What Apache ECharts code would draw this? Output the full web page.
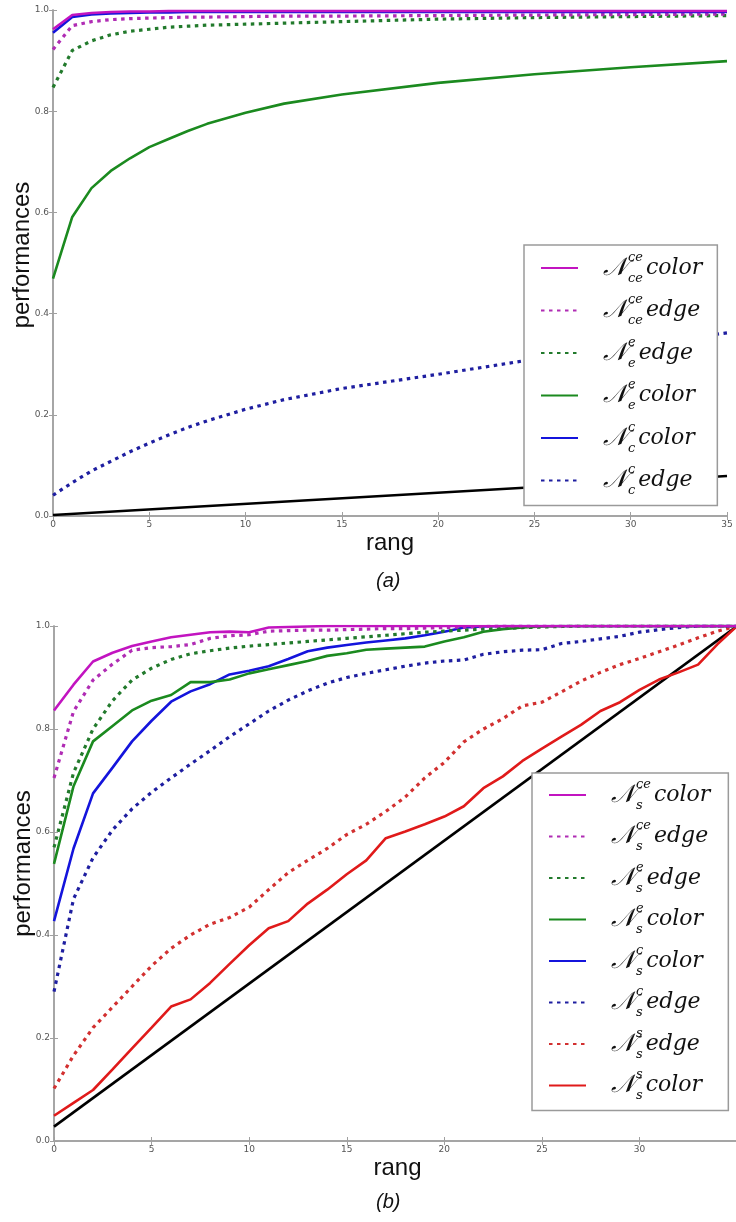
<!DOCTYPE html>
<html>
<head>
<meta charset="utf-8">
<script src="https://cdn.jsdelivr.net/npm/echarts@6/dist/echarts.min.js"></script>
<style>
  html, body { margin: 0; padding: 0; background: #fff; }
  #main { width: 736px; height: 1222px; }
</style>
</head>
<body>
<div id="main"></div>
<script>
// ---- panel (a) ----
const rankA = [0, 1, 2, 3, 4, 5, 6, 7, 8, 10, 12, 15, 20, 25, 30, 35];
const ceColorA = [0.962, 0.990, 0.994, 0.996, 0.997, 0.997, 0.998, 0.998, 0.998, 0.998, 0.998, 0.998, 0.998, 0.998, 0.998, 0.998];
const ceEdgeA = [0.922, 0.969, 0.977, 0.981, 0.983, 0.984, 0.985, 0.986, 0.986, 0.987, 0.988, 0.988, 0.989, 0.990, 0.991, 0.992];
const eEdgeA = [0.847, 0.920, 0.939, 0.951, 0.958, 0.962, 0.966, 0.968, 0.970, 0.972, 0.974, 0.977, 0.982, 0.985, 0.987, 0.989];
const eColorA = [0.469, 0.591, 0.648, 0.682, 0.707, 0.729, 0.745, 0.761, 0.775, 0.797, 0.815, 0.833, 0.856, 0.873, 0.887, 0.899];
const cColorA = [0.955, 0.986, 0.991, 0.993, 0.994, 0.995, 0.995, 0.996, 0.996, 0.996, 0.996, 0.996, 0.996, 0.996, 0.996, 0.996];
const cEdgeA = [0.041, 0.066, 0.089, 0.108, 0.127, 0.144, 0.160, 0.175, 0.188, 0.211, 0.230, 0.252, 0.280, 0.310, 0.337, 0.362];
const baseRankA = [0, 35];
const baseA = [0.002, 0.079];

// ---- panel (b) ----
const rankB = [0, 1, 2, 3, 4, 5, 6, 7, 8, 9, 10, 11, 12, 13, 14, 15, 16, 17, 18, 19, 20, 21, 22, 23, 24, 25, 26, 27, 28, 29, 30, 31, 32, 33, 34, 35];
const ceColorB = [0.836, 0.886, 0.931, 0.948, 0.961, 0.970, 0.978, 0.983, 0.988, 0.989, 0.988, 0.997, 0.998, 0.999, 1, 1, 1, 1, 1, 1, 1, 1, 1, 1, 1, 1, 1, 1, 1, 1, 1, 1, 1, 1, 1, 1];
const ceEdgeB = [0.705, 0.834, 0.895, 0.926, 0.953, 0.958, 0.960, 0.964, 0.976, 0.981, 0.983, 0.990, 0.991, 0.992, 0.992, 0.993, 0.994, 0.995, 0.995, 0.996, 0.997, 0.998, 0.999, 1, 1, 1, 1, 1, 1, 1, 1, 1, 1, 1, 1, 1];
const eEdgeB = [0.570, 0.715, 0.800, 0.855, 0.895, 0.918, 0.935, 0.946, 0.952, 0.957, 0.961, 0.964, 0.967, 0.970, 0.973, 0.976, 0.979, 0.982, 0.985, 0.988, 0.990, 0.992, 0.994, 0.995, 0.997, 0.998, 0.999, 1, 1, 1, 1, 1, 1, 1, 1, 1];
const eColorB = [0.538, 0.689, 0.776, 0.806, 0.836, 0.855, 0.866, 0.891, 0.891, 0.896, 0.908, 0.916, 0.924, 0.932, 0.942, 0.947, 0.954, 0.956, 0.958, 0.960, 0.970, 0.978, 0.989, 0.994, 0.997, 0.999, 1, 1, 1, 1, 1, 1, 1, 1, 1, 1];
const cColorB = [0.427, 0.568, 0.675, 0.725, 0.776, 0.816, 0.853, 0.873, 0.887, 0.906, 0.913, 0.922, 0.936, 0.951, 0.958, 0.963, 0.968, 0.972, 0.976, 0.982, 0.989, 0.997, 0.999, 1, 1, 1, 1, 1, 1, 1, 1, 1, 1, 1, 1, 1];
const cEdgeB = [0.290, 0.470, 0.550, 0.604, 0.645, 0.677, 0.705, 0.732, 0.758, 0.785, 0.810, 0.835, 0.856, 0.874, 0.889, 0.900, 0.908, 0.915, 0.922, 0.928, 0.932, 0.934, 0.945, 0.950, 0.953, 0.954, 0.966, 0.970, 0.975, 0.980, 0.988, 0.993, 0.997, 1, 1, 1];
const sEdgeB = [0.102, 0.166, 0.220, 0.260, 0.300, 0.340, 0.374, 0.400, 0.421, 0.434, 0.454, 0.488, 0.521, 0.545, 0.568, 0.595, 0.615, 0.640, 0.668, 0.705, 0.735, 0.775, 0.800, 0.820, 0.845, 0.852, 0.872, 0.893, 0.910, 0.925, 0.937, 0.950, 0.963, 0.977, 0.990, 1];
const sColorB = [0.049, 0.074, 0.099, 0.139, 0.180, 0.220, 0.261, 0.275, 0.307, 0.344, 0.380, 0.413, 0.427, 0.461, 0.488, 0.518, 0.545, 0.588, 0.601, 0.615, 0.630, 0.650, 0.685, 0.708, 0.738, 0.762, 0.785, 0.808, 0.835, 0.852, 0.876, 0.896, 0.910, 0.925, 0.965, 1];
const baseRankB = [0, 35];
const baseB = [0.028, 1.0];

// legend names: "sup/sub word"
const namesA = ['ce/ce color', 'ce/ce edge', 'e/e edge', 'e/e color', 'c/c color', 'c/c edge'];
const namesB = ['ce/s color', 'ce/s edge', 'e/s edge', 'e/s color', 'c/s color', 'c/s edge', 's/s edge', 's/s color'];

const MAG = '#c214c0', MAGD = '#b02cb4';
const GRN = '#1b8a1f', GRND = '#227a2c';
const BLU = '#1414dc', BLUD = '#1e1ea0';
const RED = '#e01a1a', REDD = '#d23030';

function pairs( xs, ys )
{
  return xs.map( ( x, i ) => [ x, ys[ i ] ] );
}

function line( name, xs, ys, color, dotted, g )
{
  return {
    name: name,
    type: 'line',
    xAxisIndex: g * 2,
    yAxisIndex: g * 2,
    symbol: 'none',
    data: pairs( xs, ys ),
    color: color,
    lineStyle: dotted
      ? { color: color, width: 3.2, type: [ 3.5, 4.5 ], cap: 'butt' }
      : { color: color, width: 2.6 },
    emphasis: { disabled: true },
    animation: false
  };
}

const serif = 'DejaVu Serif';
const rich = {
  n: { fontFamily: serif, fontStyle: 'italic', fontSize: 25, lineHeight: 34, color: '#111', padding: [ 0, 1, 0, 20 ] },
  sp: { fontFamily: serif, fontStyle: 'italic', fontSize: 13, lineHeight: 16, verticalAlign: 'top', color: '#111' },
  sb: { fontFamily: serif, fontStyle: 'italic', fontSize: 13, lineHeight: 15, verticalAlign: 'bottom', color: '#111' },
  sp0: { fontFamily: serif, fontStyle: 'italic', fontSize: 13, lineHeight: 16, verticalAlign: 'top', color: '#111', width: 0 },
  sb0: { fontFamily: serif, fontStyle: 'italic', fontSize: 13, lineHeight: 15, verticalAlign: 'bottom', color: '#111', width: 0 },
  t: { fontFamily: serif, fontStyle: 'italic', fontSize: 22, lineHeight: 34, color: '#111', padding: [ 0, 0, 0, 3 ] }
};

function legendLabel( name )
{
  let parts = name.split( ' ' );
  let idx = parts[ 0 ].split( '/' );
  let sup = idx[ 0 ], sub = idx[ 1 ];
  let marks = sup.length >= sub.length
    ? '{sb0|' + sub + '}{sp|' + sup + '}'
    : '{sp0|' + sup + '}{sb|' + sub + '}';
  return '{n|\u{1D4A9}}' + marks + '{t|' + parts[ 1 ] + '}';
}

function legend( names, left, top, gap, pad )
{
  return {
    data: names,
    orient: 'vertical',
    left: left,
    top: top,
    itemWidth: 37,
    itemHeight: 14,
    itemGap: gap,
    padding: pad,
    borderColor: '#9a9a9a',
    borderWidth: 1.5,
    borderRadius: 0,
    backgroundColor: '#fff',
    selectedMode: false,
    itemStyle: { opacity: 0 },
    formatter: legendLabel,
    textStyle: { rich: rich }
  };
}

const frame = { lineStyle: { color: '#a0a0a0', width: 1.5 } };
const tickIn = { inside: true, length: 4, lineStyle: { color: '#a0a0a0' } };
const tickLbl = { fontSize: 9, color: '#555', fontFamily: 'DejaVu Sans', margin: 4 };
const nameStyle = { fontSize: 24, color: '#111', fontFamily: 'Liberation Sans' };

function xAxes( g, max )
{
  return [
    {
      type: 'value', gridIndex: g, min: 0, max: max, interval: 5,
      axisLine: frame, axisTick: tickIn, splitLine: { show: false },
      axisLabel: Object.assign( {}, tickLbl, { formatter: v => v > 30 && max > 35 ? '' : String( v ) } ),
      name: 'rang', nameLocation: 'middle', nameGap: 15, nameTextStyle: nameStyle
    },
    {
      type: 'value', gridIndex: g, position: 'top', min: 0, max: max, interval: 5,
      axisLine: frame, axisTick: tickIn, axisLabel: { show: false }, splitLine: { show: false }
    }
  ];
}

function yAxes( g, shift )
{
  return [
    {
      type: 'value', gridIndex: g, min: 0, max: 1, interval: 0.2,
      axisLine: frame, axisTick: tickIn, splitLine: { show: false },
      axisLabel: Object.assign( {}, tickLbl, { formatter: v => v.toFixed( 1 ) } ),
      name: 'performances', nameLocation: 'middle', nameGap: 19, nameMoveOverlap: false,
      nameTextStyle: Object.assign( {}, nameStyle, { padding: [ 0, 0, 0, shift ] } )
    },
    {
      type: 'value', gridIndex: g, position: 'right', min: 0, max: 1, interval: 0.2,
      axisLine: frame, axisTick: tickIn, axisLabel: { show: false }, splitLine: { show: false }
    }
  ];
}

let myChart = echarts.init( document.getElementById( 'main' ) );
let titleFont = { fontSize: 20, fontStyle: 'italic', fontWeight: 'normal', fontFamily: 'Liberation Sans', color: '#111' };
let option = {
  animation: false,
  backgroundColor: '#fff',
  title: [
    { text: '(a)', left: 371, top: 566, textStyle: titleFont },
    { text: '(b)', left: 371, top: 1187, textStyle: titleFont }
  ],
  grid: [
    { left: 53, top: 10, width: 674, height: 506, outerBoundsMode: 'none', containLabel: false },
    { left: 54, top: 626, width: 687, height: 515, outerBoundsMode: 'none', containLabel: false }
  ],
  xAxis: xAxes( 0, 35 ).concat( xAxes( 1, 35.2 ) ),
  yAxis: yAxes( 0, 16 ).concat( yAxes( 1, 40 ) ),
  legend: [
    legend( namesA, 524, 245, 8.5, [ 6, 15, 8, 16 ] ),
    legend( namesB, 532, 773, 7.5, [ 5, 18, 8, 16 ] )
  ],
  series: [
    line( 'baseA', baseRankA, baseA, '#000', false, 0 ),
    line( 'c/c edge', rankA, cEdgeA, BLUD, true, 0 ),
    line( 'e/e color', rankA, eColorA, GRN, false, 0 ),
    line( 'e/e edge', rankA, eEdgeA, GRND, true, 0 ),
    line( 'ce/ce edge', rankA, ceEdgeA, MAGD, true, 0 ),
    line( 'c/c color', rankA, cColorA, BLU, false, 0 ),
    line( 'ce/ce color', rankA, ceColorA, MAG, false, 0 ),

    line( 'baseB', baseRankB, baseB, '#000', false, 1 ),
    line( 's/s color', rankB, sColorB, RED, false, 1 ),
    line( 's/s edge', rankB, sEdgeB, REDD, true, 1 ),
    line( 'c/s edge', rankB, cEdgeB, BLUD, true, 1 ),
    line( 'c/s color', rankB, cColorB, BLU, false, 1 ),
    line( 'e/s color', rankB, eColorB, GRN, false, 1 ),
    line( 'e/s edge', rankB, eEdgeB, GRND, true, 1 ),
    line( 'ce/s edge', rankB, ceEdgeB, MAGD, true, 1 ),
    line( 'ce/s color', rankB, ceColorB, MAG, false, 1 )
  ]
};
myChart.setOption( option );
window.addEventListener( 'resize', function ()
{
  myChart.resize();
} );
</script>
</body>
</html>
